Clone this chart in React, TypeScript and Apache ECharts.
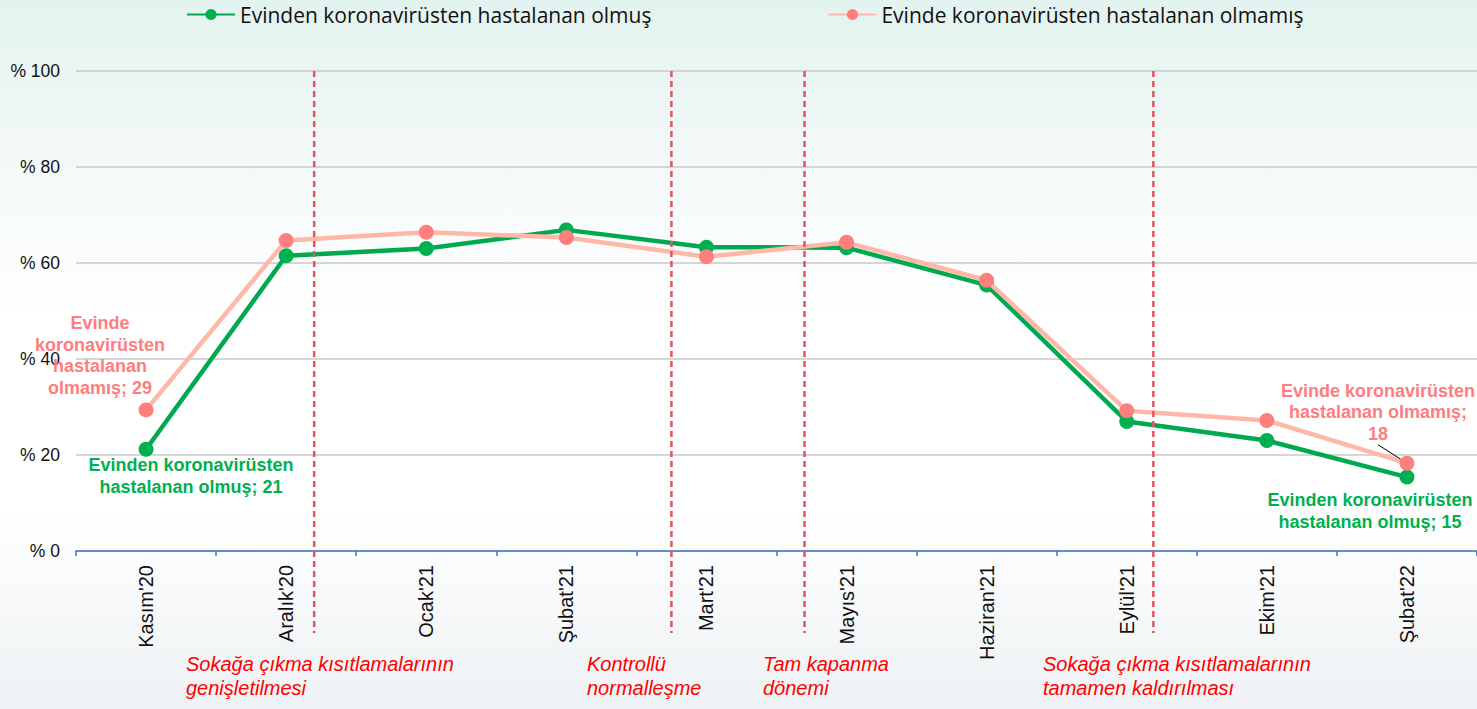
import React, { useEffect, useRef } from "react";
import * as echarts from "echarts";

const categories = ["Kasım'20", "Aralık'20", "Ocak'21", "Şubat'21", "Mart'21", "Mayıs'21", "Haziran'21", "Eylül'21", "Ekim'21", "Şubat'22"];
const greenName = "Evinden koronavirüsten hastalanan olmuş";
const pinkName = "Evinde koronavirüsten hastalanan olmamış";
const greenValues = [21.2, 61.5, 63.0, 66.9, 63.3, 63.2, 55.4, 27.0, 23.0, 15.4];
const pinkValues = [29.4, 64.7, 66.4, 65.3, 61.3, 64.3, 56.4, 29.2, 27.2, 18.3];
const eventPositions = [1.2, 3.75, 4.7, 7.19];
const eventTexts = [
  "Sokağa çıkma kısıtlamalarının\ngenişletilmesi",
  "Kontrollü\nnormalleşme",
  "Tam kapanma\ndönemi",
  "Sokağa çıkma kısıtlamalarının\ntamamen kaldırılması",
];
const eventTextX = [186, 587, 763, 1043];

const GREEN_LINE = "#00A850";
const GREEN = "#00B050";
const PINK_LINE = "#FFB8A8";
const PINK = "#FF7F7F";
const PINK_TEXT = "#FF7C80";
const FONT = "'Liberation Sans', Arial, sans-serif";

export default function App() {
  const ref = useRef<HTMLDivElement>(null);
  useEffect(() => {
    if (!ref.current) return;
    const chart = echarts.init(ref.current, null, { renderer: "svg" });
    const labelBase = { show: true, fontFamily: FONT, fontWeight: "bold", fontSize: 18, lineHeight: 21.5, align: "center" };
    const n = greenValues.length;
    const greenData = greenValues.map((v, i) => {
      if (i === 0)
        return { value: v, label: { ...labelBase, color: GREEN, position: "bottom", distance: -2, offset: [45, 0], formatter: () => `Evinden koronavirüsten\nhastalanan olmuş; ${Math.round(v)}` } };
      if (i === n - 1)
        return { value: v, label: { ...labelBase, color: GREEN, position: "bottom", distance: 5, offset: [-37, 0], formatter: () => `Evinden koronavirüsten\nhastalanan olmuş; ${Math.round(v)}` } };
      return v;
    });
    const pinkData = pinkValues.map((v, i) => {
      if (i === 0)
        return { value: v, label: { ...labelBase, color: PINK_TEXT, position: "top", distance: 4, offset: [-46, 0], formatter: () => `Evinde\nkoronavirüsten\nhastalanan\nolmamış; ${Math.round(v)}` } };
      if (i === n - 1)
        return {
          value: v,
          label: { ...labelBase, color: PINK_TEXT, position: "top", distance: 10, offset: [-29, -1], formatter: () => `Evinde koronavirüsten\nhastalanan olmamış;\n${Math.round(v)}` },
          labelLine: { show: true, lineStyle: { color: "#000", width: 1 } },
        };
      return v;
    });

    chart.setOption({
      animation: false,
      legend: {
        data: [greenName, pinkName],
        left: 186,
        top: 4,
        padding: 0,
        itemGap: 176,
        itemWidth: 48,
        itemHeight: 14,
        textStyle: { fontFamily: "'Open Sans', sans-serif", fontSize: 21, color: "#111" },
      },
      grid: { left: 76, right: 0, top: 71, bottom: 158, containLabel: false },
      xAxis: [
        {
          type: "category",
          data: categories,
          boundaryGap: true,
          axisLine: { lineStyle: { color: "#4472C4", width: 1.5 } },
          axisTick: { show: true, length: 5, lineStyle: { color: "#4472C4", width: 1.5 } },
          axisLabel: { rotate: 90, fontFamily: FONT, fontSize: 20, color: "#111", margin: 14, interval: 0 },
        },
        { type: "value", min: -0.5, max: 9.5, show: false },
      ],
      yAxis: {
        type: "value",
        min: 0,
        max: 100,
        interval: 20,
        axisLine: { show: false },
        axisTick: { show: false },
        axisLabel: { formatter: "% {value}", fontFamily: FONT, fontSize: 17.5, color: "#111", margin: 16 },
        splitLine: { lineStyle: { color: "#C8C8C8", width: 1.5 } },
      },
      series: [
        {
          name: greenName,
          type: "line",
          data: greenData,
          symbol: "circle",
          symbolSize: 15,
          lineStyle: { color: GREEN_LINE, width: 4.5 },
          itemStyle: { color: GREEN },
          z: 3,
        },
        {
          name: pinkName,
          type: "line",
          data: pinkData,
          symbol: "circle",
          symbolSize: 15,
          lineStyle: { color: PINK_LINE, width: 4.5 },
          itemStyle: { color: PINK },
          z: 4,
        },
        {
          name: "events",
          type: "custom",
          xAxisIndex: 1,
          yAxisIndex: 0,
          clip: false,
          silent: true,
          z: 5,
          data: eventPositions.map((x) => [x, 100]),
          renderItem: (params: any, api: any) => {
            const top = api.coord([api.value(0), 100]);
            const bottom = api.coord([api.value(0), 0]);
            return {
              type: "line",
              shape: { x1: top[0], y1: top[1], x2: bottom[0], y2: bottom[1] + 82 },
              style: { stroke: "#E0555E", lineWidth: 2.5, lineDash: [6, 4] },
            };
          },
        },
      ],
      graphic: eventTexts.map((t, i) => ({
        type: "text",
        left: eventTextX[i],
        top: 652,
        style: { text: t, fontFamily: FONT, fontStyle: "italic", fontSize: 20, lineHeight: 24, fill: "#FF0000" },
      })),
    });
    return () => chart.dispose();
  }, []);

  return (
    <div
      style={{
        position: "fixed",
        left: 0,
        top: 0,
        width: 1477,
        height: 709,
        background: "linear-gradient(to bottom, #E3F3EF 0%, #F3F9F8 22%, #FFFFFF 45%, #FFFFFF 72%, #EEF2F4 100%)",
      }}
    >
      <div ref={ref} style={{ width: 1477, height: 709 }} />
    </div>
  );
}
